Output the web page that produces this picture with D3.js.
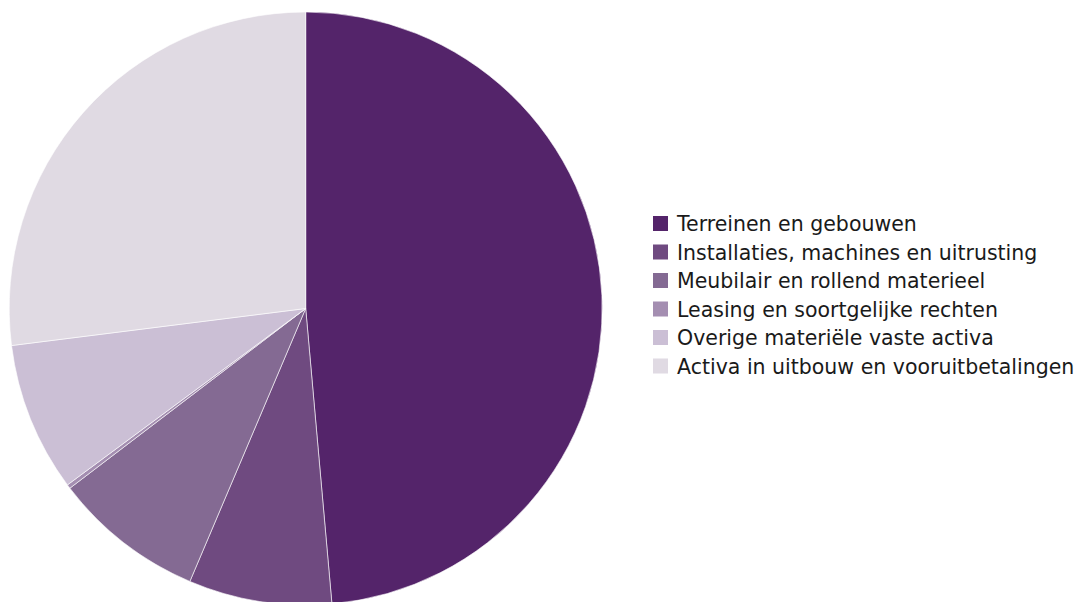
<!DOCTYPE html>
<html>
<head>
<meta charset="utf-8">
<script src="https://cdn.jsdelivr.net/npm/d3@7"></script>
<style>
  body { margin: 0; background: #fff; }
  svg { display: block; }
  text { font-family: "DejaVu Sans", sans-serif; fill: #1a1a1a; }
</style>
</head>
<body>
<div id="chart"></div>
<script>
const w = 1085
const h = 602

// share of each category, percent
const categories = [
  'Terreinen en gebouwen',
  'Installaties, machines en uitrusting',
  'Meubilair en rollend materieel',
  'Leasing en soortgelijke rechten',
  'Overige materiële vaste activa',
  'Activa in uitbouw en vooruitbetalingen'
]
const values = [48.6, 7.8, 8.25, 0.22, 8.15, 27.0]
const palette = ['#54246a', '#6f4a80', '#846a93', '#a48eb1', '#cbbfd5', '#e0dae3']

const data = categories.map((c, i) => ({ name: c, value: values[i] }))

const color = d3.scaleOrdinal().domain(categories).range(palette)

const svg = d3.select('#chart')
  .append('svg')
  .attr('width', w)
  .attr('height', h)

const cx = 305.7
const cy = 308.5
const r = 296.5

const pie = d3.pie()
  .value(d => d.value)
  .sort(null)

const arc = d3.arc()
  .innerRadius(0)
  .outerRadius(r)

svg.append('g')
  .attr('transform', `translate(${cx},${cy})`)
  .selectAll('path')
  .data(pie(data))
  .enter()
  .append('path')
  .attr('d', arc)
  .style('fill', d => color(d.data.name))
  .style('stroke', '#fff')
  .style('stroke-width', 0.6)

// legend
const legend = svg.append('g')
  .attr('transform', 'translate(653, 216)')

const rows = legend.selectAll('g')
  .data(categories)
  .enter()
  .append('g')
  .attr('transform', (d, i) => `translate(0, ${i * 28.5})`)

rows.append('rect')
  .attr('width', 15)
  .attr('height', 15)
  .style('fill', d => color(d))

rows.append('text')
  .attr('x', 24)
  .attr('y', 15)
  .style('font-size', '20.5px')
  .text(d => d)
</script>
</body>
</html>
